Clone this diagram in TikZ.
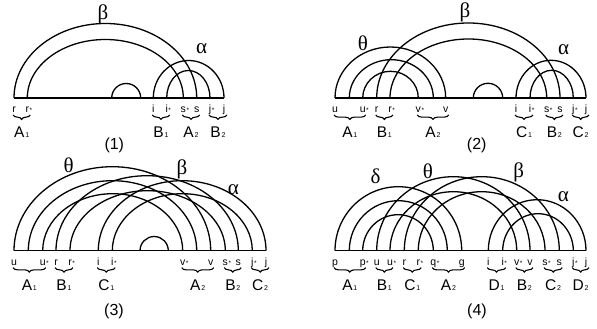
\documentclass[tikz,border=0pt]{standalone}
\usepackage{fontspec}
\setmainfont{Liberation Sans}
\newfontfamily\grkfont{Liberation Serif}
\usetikzlibrary{positioning,calc,decorations.pathreplacing}
\newcommand\lowidx[1]{\kern0.8pt{\fontsize{7pt}{7pt}\selectfont#1}}
\newcommand\starx{\rlap{\kern0.6pt{\fontsize{6.5pt}{6.5pt}\selectfont*}}}
\newcommand\arcbow[3]{\draw[bowline] let \p1=(#1), \p2=(#2) in (#1) arc[start angle=180, end angle=0, x radius={(\x2-\x1)/2}, y radius=#3pt];}

\begin{document}
\begin{tikzpicture}[x=1pt, y=1pt,
  bowline/.style={line width=1.3pt},
  endlbl/.style={font=\fontsize{10.5pt}{10.5pt}\selectfont, inner sep=0pt,
                 text height=7.5pt, text depth=2pt},
  grplbl/.style={below=11pt, font=\fontsize{15.5pt}{15.5pt}\selectfont, inner sep=0pt,
                 text height=11pt, text depth=0pt},
  brc/.style={decorate, decoration={brace, mirror, amplitude=4.5pt}, line width=1.1pt},
  grk/.style={font=\fontsize{21pt}{21pt}\selectfont\grkfont, inner sep=0pt},
  paneltag/.style={font=\fontsize{16pt}{16pt}\selectfont, inner sep=0pt}]
  \useasboundingbox (0,0) rectangle (597,329);

  \coordinate (a-r) at (14,231);
  \coordinate (a-rs) at (27.3,231);
  \coordinate (a-m) at (111.7,231);
  \coordinate (a-n) at (140.7,231);
  \coordinate (a-i) at (153.3,231);
  \coordinate (a-is) at (166.7,231);
  \coordinate (a-ss) at (183.3,231);
  \coordinate (a-s) at (196.7,231);
  \coordinate (a-js) at (210,231);
  \coordinate (a-j) at (224,231);
  \draw[bowline] (a-r) -- (a-j);
  \arcbow{a-r}{a-s}{74.5}
  \arcbow{a-rs}{a-ss}{58.5}
  \arcbow{a-m}{a-n}{14.5}
  \arcbow{a-i}{a-j}{37.5}
  \arcbow{a-is}{a-js}{27.5}
  \node[endlbl, below=7pt of a-r] (la-r) {r};
  \node[endlbl, below=7pt of a-rs] (la-rs) {r\starx};
  \node[endlbl, below=7pt of a-i] (la-i) {i};
  \node[endlbl, below=7pt of a-is] (la-is) {i\starx};
  \node[endlbl, below=7pt of a-ss] (la-ss) {s\starx};
  \node[endlbl, below=7pt of a-s] (la-s) {s};
  \node[endlbl, below=7pt of a-js] (la-js) {j\starx};
  \node[endlbl, below=7pt of a-j] (la-j) {j};
  \draw[brc] ([xshift=-1pt]la-r.south) -- node[grplbl] {A\lowidx1} ([xshift=3pt]la-rs.south);
  \draw[brc] ([xshift=-1pt]la-i.south) -- node[grplbl] {B\lowidx1} ([xshift=3pt]la-is.south);
  \draw[brc] ([xshift=-1pt]la-ss.south) -- node[grplbl] {A\lowidx2} ([xshift=3pt]la-s.south);
  \draw[brc] ([xshift=-1pt]la-js.south) -- node[grplbl] {B\lowidx2} ([xshift=3pt]la-j.south);
  \node[grk] (a-beta) at (103,314.5) {β};
  \node[grk] (a-alpha) at (201.7,280.3) {α};
  \node[paneltag] (tag-a) at (114.3,184) {(1)};

  \coordinate (b-u) at (335,231);
  \coordinate (b-u2) at (349.3,231);
  \coordinate (b-us) at (362.7,231);
  \coordinate (b-r) at (376.7,231);
  \coordinate (b-rs) at (390,231);
  \coordinate (b-vs) at (418.3,231);
  \coordinate (b-v2) at (433.3,231);
  \coordinate (b-v) at (445.7,231);
  \coordinate (b-m) at (473.3,231);
  \coordinate (b-n) at (502.7,231);
  \coordinate (b-i) at (516,231);
  \coordinate (b-is) at (530,231);
  \coordinate (b-ss) at (546.7,231);
  \coordinate (b-s) at (560,231);
  \coordinate (b-js) at (573.3,231);
  \coordinate (b-j) at (586,231);
  \draw[bowline] (b-u) -- (b-j);
  \arcbow{b-u}{b-v}{51}
  \arcbow{b-u2}{b-v2}{38.3}
  \arcbow{b-us}{b-vs}{26.7}
  \arcbow{b-r}{b-s}{75}
  \arcbow{b-rs}{b-ss}{59}
  \arcbow{b-m}{b-n}{14.7}
  \arcbow{b-i}{b-j}{37.7}
  \arcbow{b-is}{b-js}{27.7}
  \node[endlbl, below=7pt of b-u] (lb-u) {u};
  \node[endlbl, below=7pt of b-us] (lb-us) {u\starx};
  \node[endlbl, below=7pt of b-r] (lb-r) {r};
  \node[endlbl, below=7pt of b-rs] (lb-rs) {r\starx};
  \node[endlbl, below=7pt of b-vs] (lb-vs) {v\starx};
  \node[endlbl, below=7pt of b-v] (lb-v) {v};
  \node[endlbl, below=7pt of b-i] (lb-i) {i};
  \node[endlbl, below=7pt of b-is] (lb-is) {i\starx};
  \node[endlbl, below=7pt of b-ss] (lb-ss) {s\starx};
  \node[endlbl, below=7pt of b-s] (lb-s) {s};
  \node[endlbl, below=7pt of b-js] (lb-js) {j\starx};
  \node[endlbl, below=7pt of b-j] (lb-j) {j};
  \draw[brc] ([xshift=-1pt]lb-u.south) -- node[grplbl] {A\lowidx1} ([xshift=3pt]lb-us.south);
  \draw[brc] ([xshift=-1pt]lb-r.south) -- node[grplbl] {B\lowidx1} ([xshift=3pt]lb-rs.south);
  \draw[brc] ([xshift=-1pt]lb-vs.south) -- node[grplbl] {A\lowidx2} ([xshift=3pt]lb-v.south);
  \draw[brc] ([xshift=-1pt]lb-i.south) -- node[grplbl] {C\lowidx1} ([xshift=3pt]lb-is.south);
  \draw[brc] ([xshift=-1pt]lb-ss.south) -- node[grplbl] {B\lowidx2} ([xshift=3pt]lb-s.south);
  \draw[brc] ([xshift=-1pt]lb-js.south) -- node[grplbl] {C\lowidx2} ([xshift=3pt]lb-j.south);
  \node[grk] (b-theta) at (363,285.7) {θ};
  \node[grk] (b-beta) at (465,316.5) {β};
  \node[grk] (b-alpha) at (563.7,279) {α};
  \node[paneltag] (tag-b) at (476.7,184) {(2)};

  \coordinate (c-u) at (14,78.3);
  \coordinate (c-u2) at (28.3,78.3);
  \coordinate (c-us) at (42.7,78.3);
  \coordinate (c-r) at (56,78.3);
  \coordinate (c-rs) at (70,78.3);
  \coordinate (c-i) at (98.3,78.3);
  \coordinate (c-is) at (112.3,78.3);
  \coordinate (c-m) at (140,78.3);
  \coordinate (c-n) at (168.3,78.3);
  \coordinate (c-vs) at (182.7,78.3);
  \coordinate (c-v2) at (196.7,78.3);
  \coordinate (c-v) at (210.7,78.3);
  \coordinate (c-ss) at (225.3,78.3);
  \coordinate (c-s) at (238.3,78.3);
  \coordinate (c-js) at (252.3,78.3);
  \coordinate (c-j) at (266,78.3);
  \draw[bowline] (c-u) -- (c-j);
  \arcbow{c-u}{c-v}{84}
  \arcbow{c-u2}{c-v2}{70}
  \arcbow{c-us}{c-vs}{57}
  \arcbow{c-r}{c-s}{75}
  \arcbow{c-rs}{c-ss}{60}
  \arcbow{c-i}{c-j}{70}
  \arcbow{c-is}{c-js}{57}
  \arcbow{c-m}{c-n}{14.2}
  \node[endlbl, below=7pt of c-u] (lc-u) {u};
  \node[endlbl, below=7pt of c-us] (lc-us) {u\starx};
  \node[endlbl, below=7pt of c-r] (lc-r) {r};
  \node[endlbl, below=7pt of c-rs] (lc-rs) {r\starx};
  \node[endlbl, below=7pt of c-i] (lc-i) {i};
  \node[endlbl, below=7pt of c-is] (lc-is) {i\starx};
  \node[endlbl, below=7pt of c-vs] (lc-vs) {v\starx};
  \node[endlbl, below=7pt of c-v] (lc-v) {v};
  \node[endlbl, below=7pt of c-ss] (lc-ss) {s\starx};
  \node[endlbl, below=7pt of c-s] (lc-s) {s};
  \node[endlbl, below=7pt of c-js] (lc-js) {j\starx};
  \node[endlbl, below=7pt of c-j] (lc-j) {j};
  \draw[brc] ([xshift=-1pt]lc-u.south) -- node[grplbl] {A\lowidx1} ([xshift=3pt]lc-us.south);
  \draw[brc] ([xshift=-1pt]lc-r.south) -- node[grplbl] {B\lowidx1} ([xshift=3pt]lc-rs.south);
  \draw[brc] ([xshift=-1pt]lc-i.south) -- node[grplbl] {C\lowidx1} ([xshift=3pt]lc-is.south);
  \draw[brc] ([xshift=-1pt]lc-vs.south) -- node[grplbl] {A\lowidx2} ([xshift=3pt]lc-v.south);
  \draw[brc] ([xshift=-1pt]lc-ss.south) -- node[grplbl] {B\lowidx2} ([xshift=3pt]lc-s.south);
  \draw[brc] ([xshift=-1pt]lc-js.south) -- node[grplbl] {C\lowidx2} ([xshift=3pt]lc-j.south);
  \node[grk] (c-theta) at (68.7,164) {θ};
  \node[grk] (c-beta) at (182,160) {β};
  \node[grk] (c-alpha) at (233.3,139.5) {α};
  \node[paneltag] (tag-c) at (114,17.3) {(3)};

  \coordinate (d-p) at (335,78.3);
  \coordinate (d-p2) at (349.3,78.3);
  \coordinate (d-ps) at (362.7,78.3);
  \coordinate (d-u) at (376.7,78.3);
  \coordinate (d-us) at (390,78.3);
  \coordinate (d-r) at (404.3,78.3);
  \coordinate (d-rs) at (418.3,78.3);
  \coordinate (d-qs) at (433.3,78.3);
  \coordinate (d-q2) at (447.3,78.3);
  \coordinate (d-g) at (461.7,78.3);
  \coordinate (d-i) at (488.3,78.3);
  \coordinate (d-is) at (502.7,78.3);
  \coordinate (d-vs) at (516.7,78.3);
  \coordinate (d-v) at (530,78.3);
  \coordinate (d-ss) at (545,78.3);
  \coordinate (d-s) at (559.3,78.3);
  \coordinate (d-js) at (573.3,78.3);
  \coordinate (d-j) at (586,78.3);
  \draw[bowline] (d-p) -- (d-j);
  \arcbow{d-p}{d-g}{64}
  \arcbow{d-p2}{d-q2}{50}
  \arcbow{d-ps}{d-qs}{36}
  \arcbow{d-u}{d-v}{74}
  \arcbow{d-us}{d-vs}{59}
  \arcbow{d-r}{d-s}{74}
  \arcbow{d-rs}{d-ss}{59}
  \arcbow{d-i}{d-j}{51}
  \arcbow{d-is}{d-js}{37}
  \node[endlbl, below=7pt of d-p] (ld-p) {p};
  \node[endlbl, below=7pt of d-ps] (ld-ps) {p\starx};
  \node[endlbl, below=7pt of d-u] (ld-u) {u};
  \node[endlbl, below=7pt of d-us] (ld-us) {u\starx};
  \node[endlbl, below=7pt of d-r] (ld-r) {r};
  \node[endlbl, below=7pt of d-rs] (ld-rs) {r\starx};
  \node[endlbl, below=7pt of d-qs] (ld-qs) {q\starx};
  \node[endlbl, below=7pt of d-g] (ld-g) {g};
  \node[endlbl, below=7pt of d-i] (ld-i) {i};
  \node[endlbl, below=7pt of d-is] (ld-is) {i\starx};
  \node[endlbl, below=7pt of d-vs] (ld-vs) {v\starx};
  \node[endlbl, below=7pt of d-v] (ld-v) {v};
  \node[endlbl, below=7pt of d-ss] (ld-ss) {s\starx};
  \node[endlbl, below=7pt of d-s] (ld-s) {s};
  \node[endlbl, below=7pt of d-js] (ld-js) {j\starx};
  \node[endlbl, below=7pt of d-j] (ld-j) {j};
  \draw[brc] ([xshift=-1pt]ld-p.south) -- node[grplbl] {A\lowidx1} ([xshift=3pt]ld-ps.south);
  \draw[brc] ([xshift=-1pt]ld-u.south) -- node[grplbl] {B\lowidx1} ([xshift=3pt]ld-us.south);
  \draw[brc] ([xshift=-1pt]ld-r.south) -- node[grplbl] {C\lowidx1} ([xshift=3pt]ld-rs.south);
  \draw[brc] ([xshift=-1pt]ld-qs.south) -- node[grplbl] {A\lowidx2} ([xshift=3pt]ld-g.south);
  \draw[brc] ([xshift=-1pt]ld-i.south) -- node[grplbl] {D\lowidx1} ([xshift=3pt]ld-is.south);
  \draw[brc] ([xshift=-1pt]ld-vs.south) -- node[grplbl] {B\lowidx2} ([xshift=3pt]ld-v.south);
  \draw[brc] ([xshift=-1pt]ld-ss.south) -- node[grplbl] {C\lowidx2} ([xshift=3pt]ld-s.south);
  \draw[brc] ([xshift=-1pt]ld-js.south) -- node[grplbl] {D\lowidx2} ([xshift=3pt]ld-j.south);
  \node[grk] (d-delta) at (375.5,153) {δ};
  \node[grk] (d-theta) at (428,158) {θ};
  \node[grk] (d-beta) at (518.7,157) {β};
  \node[grk] (d-alpha) at (563.3,132.3) {α};
  \node[paneltag] (tag-d) at (477,17.3) {(4)};
\end{tikzpicture}
\end{document}
